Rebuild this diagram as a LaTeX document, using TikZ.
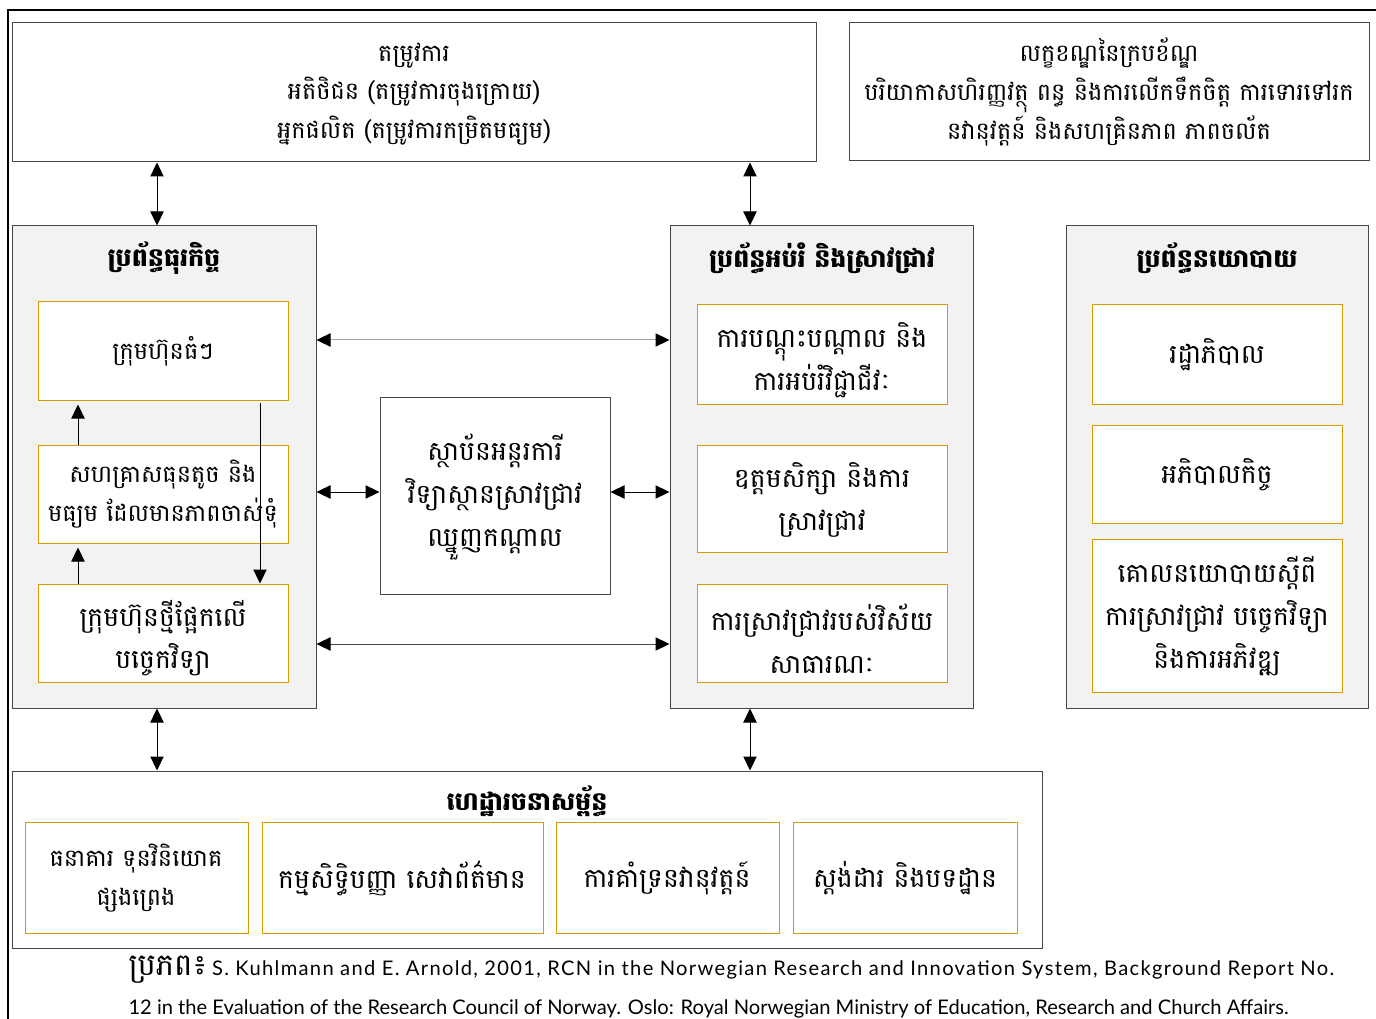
\documentclass[tikz,border=0pt]{standalone}
\usepackage{fontspec}
\setmainfont{Battambang}[Script=Khmer]
\newfontfamily\latinfont{Lato}
\newfontfamily\latinwide{Lato}[LetterSpace=6.5]
\usetikzlibrary{arrows.meta,fit}

\definecolor{panelgray}{RGB}{242,242,242}
\definecolor{edgegray}{RGB}{70,70,70}
\definecolor{orangeedge}{RGB}{215,155,0}
\definecolor{linkgray}{RGB}{165,165,165}
\newcommand{\kmtext}{\fontsize{18}{29}\selectfont}
\newcommand{\kmbig}{\fontsize{20}{32}\selectfont}
\newcommand{\kmhead}{\fontsize{19}{29}\selectfont\bfseries}

\tikzset{every picture/.style={line width=0.75pt}}
\tikzset{
  panel/.style={draw=edgegray, fill=panelgray, inner sep=0pt},
  plainbox/.style={draw=edgegray, fill=white, inner sep=0pt},
  inbox/.style={draw=orangeedge, fill=white, inner sep=0pt},
  kmlabel/.style={align=center, inner sep=0pt, font=\kmtext},
  kmlabelbig/.style={align=center, inner sep=0pt, font=\kmbig},
  headtext/.style={inner sep=0.75pt, font=\kmhead},
  tip/.style={-{Triangle[length=10.5pt,width=10pt,color=black]}},
  dbl/.style={{Triangle[length=10.5pt,width=10pt,color=black]}-{Triangle[length=10.5pt,width=10pt,color=black]}},
}

\begin{document}
\begin{tikzpicture}[x=0.75pt,y=0.75pt,yscale=-1,xscale=1]
\useasboundingbox (0,0) rectangle (1376,1019);

%Frame
\draw [line width=1.5pt] (8,1019) -- (8,10) -- (1376,10) ;

%Shape: Rectangle (demand)
\node [plainbox, fit={(12,23) (816,162)}] (demand) {};
%Shape: Rectangle (framework conditions)
\node [plainbox, fit={(849,23) (1369,161)}] (frame) {};

%Shape: Rectangle (business system)
\node [panel, fit={(12,226) (316,708)}] (bus) {};
\node [inbox, fit={(38,302) (288,400)}] (bigfirm) {};
\node [inbox, fit={(38,445) (288,543)}] (mse) {};
\node [inbox, fit={(38,584) (288,682)}] (techfirm) {};

%Shape: Rectangle (education and research system)
\node [panel, fit={(670,226) (973,708)}] (edu) {};
\node [inbox, fit={(697,305) (947,404)}] (training) {};
\node [inbox, fit={(697,445) (947,552)}] (higher) {};
\node [inbox, fit={(697,584) (947,682)}] (public) {};

%Shape: Rectangle (political system)
\node [panel, fit={(1066,226) (1368,708)}] (pol) {};
\node [inbox, fit={(1092,305) (1342,404)}] (gov) {};
\node [inbox, fit={(1092,425) (1342,523)}] (governance) {};
\node [inbox, fit={(1092,539) (1342,692)}] (rtdpolicy) {};

%Shape: Rectangle (intermediaries)
\node [plainbox, fit={(380,397) (610,594)}] (mid) {};

%Shape: Rectangle (infrastructure)
\node [plainbox, fit={(12,771) (1042,948)}] (infra) {};
\node [inbox, fit={(25,822) (248,933)}] (bank) {};
\node [inbox, fit={(262,822) (543,933)}] (ipr) {};
\node [inbox, fit={(556,822) (779,933)}] (support) {};
\node [inbox, fit={(793,822) (1017,933)}] (norms) {};

% Text Node
\node [kmlabel] (demandlbl) at (414,94) {តម្រូវការ\\អតិថិជន (តម្រូវការចុងក្រោយ)\\អ្នកផលិត (តម្រូវការកម្រិតមធ្យម)};
% Text Node
\node [kmlabel] (framelbl) at (1109,92) {លក្ខខណ្ឌនៃក្របខ័ណ្ឌ\\បរិយាកាសហិរញ្ញវត្ថុ ពន្ធ និងការលើកទឹកចិត្ត ការទោរទៅរក\\នវានុវត្តន៍ និងសហគ្រិនភាព ភាពចល័ត};
% Text Node
\node [headtext] (bustitle) at (164,258) {ប្រព័ន្ធធុរកិច្ច};
\node [kmlabel] (bigfirmlbl) at (163,351) {ក្រុមហ៊ុនធំៗ};
\node [kmlabel] (mselbl) at (163,494) {សហគ្រាសធុនតូច និង\\មធ្យម ដែលមានភាពចាស់ទុំ};
\node [kmlabelbig] (techfirmlbl) at (163,638) {ក្រុមហ៊ុនថ្មីផ្អែកលើ\\បច្ចេកវិទ្យា};
% Text Node
\node [headtext] (edutitle) at (822,258) {ប្រព័ន្ធអប់រំ និងស្រាវជ្រាវ};
\node [kmlabelbig] (traininglbl) at (822,360) {ការបណ្តុះបណ្តាល និង\\ការអប់រំវិជ្ជាជីវៈ};
\node [kmlabelbig] (higherlbl) at (822,500) {ឧត្តមសិក្សា និងការ\\ស្រាវជ្រាវ};
\node [kmlabelbig] (publiclbl) at (822,639) {ការស្រាវជ្រាវរបស់វិស័យ\\សាធារណៈ};
% Text Node
\node [headtext] (poltitle) at (1217,258) {ប្រព័ន្ធនយោបាយ};
\node [kmlabelbig] (govlbl) at (1217,355) {រដ្ឋាភិបាល};
\node [kmlabelbig] (governancelbl) at (1217,475) {អភិបាលកិច្ច};
\node [kmlabelbig] (rtdpolicylbl) at (1217,616) {គោលនយោបាយស្តីពី\\ការស្រាវជ្រាវ បច្ចេកវិទ្យា\\និងការអភិវឌ្ឍ};
% Text Node
\node [kmlabelbig] (midlbl) at (495,497) {ស្ថាប័នអន្តរការី\\វិទ្យាស្ថានស្រាវជ្រាវ\\ឈ្នួញកណ្តាល};
% Text Node
\node [headtext] (infratitle) at (527,801) {ហេដ្ឋារចនាសម្ព័ន្ធ};
\node [kmlabel] (banklbl) at (136,878) {ធនាគារ ទុនវិនិយោគ\\ផ្សងព្រេង};
\node [kmlabelbig] (iprlbl) at (402,878) {កម្មសិទ្ធិបញ្ញា សេវាព័ត៌មាន};
\node [kmlabelbig] (supportlbl) at (667,878) {ការគាំទ្រនវានុវត្តន៍};
\node [kmlabelbig] (normslbl) at (905,878) {ស្តង់ដារ និងបទដ្ឋាន};

%Coordinates for the connectors
\coordinate (xa) at (157,0);
\coordinate (xb) at (750,0);
\coordinate (xl) at (78,0);
\coordinate (xr) at (260,0);
\coordinate (ya) at (0,340);
\coordinate (yb) at (0,492);
\coordinate (yc) at (0,644);

%Straight Lines (vertical)
\draw [dbl] (demand.south -| xa) -- (bus.north -| xa) ;
\draw [dbl] (demand.south -| xb) -- (edu.north -| xb) ;
\draw [dbl] (bus.south -| xa) -- (infra.north -| xa) ;
\draw [dbl] (edu.south -| xb) -- (infra.north -| xb) ;

%Straight Lines (inside business system)
\draw [tip, shorten >=3pt] (mse.north -| xl) -- (bigfirm.south -| xl) ;
\draw [tip, shorten >=3pt] (techfirm.north -| xl) -- (mse.south -| xl) ;
\draw [tip, shorten <=2pt] (bigfirm.south -| xr) -- (techfirm.north -| xr) ;

%Straight Lines (horizontal)
\draw [dbl, draw=linkgray] (bus.east |- ya) -- (edu.west |- ya) ;
\draw [dbl] (bus.east |- yb) -- (mid.west |- yb) ;
\draw [dbl] (mid.east |- yb) -- (edu.west |- yb) ;
\draw [dbl, draw=edgegray] (bus.east |- yc) -- (edu.west |- yc) ;

% Text Node (source)
\node [anchor=west, inner sep=0pt] (src1) at (128,970) {{\fontsize{23}{24}\selectfont ប្រភព៖} {\latinwide\fontsize{15.1}{16}\selectfont S. Kuhlmann and E. Arnold, 2001, RCN in the Norwegian Research and Innovation System, Background Report No.}};
\node [anchor=west, inner sep=0pt] (src2) at (128,1009) {\latinfont\fontsize{15.1}{16}\selectfont 12 in the Evaluation of the Research Council of Norway. Oslo: Royal Norwegian Ministry of Education, Research and Church Affairs.};

\end{tikzpicture}
\end{document}
